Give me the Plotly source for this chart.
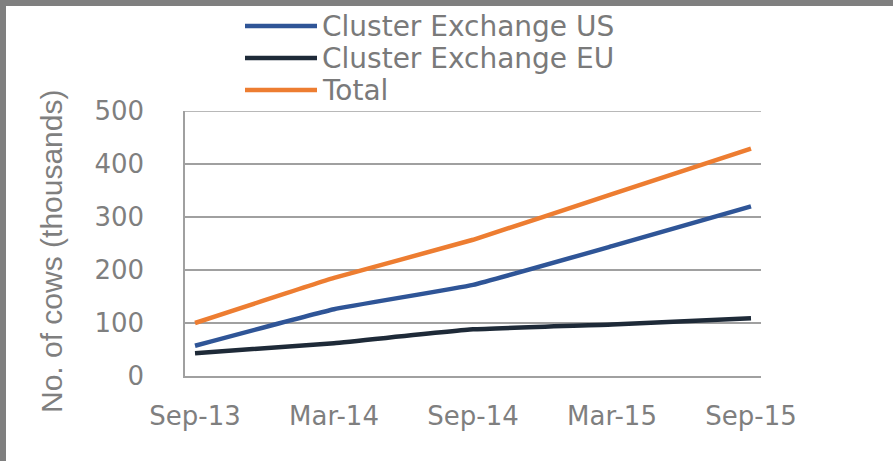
import plotly.graph_objects as go

categories = ["Sep-13", "Mar-14", "Sep-14", "Mar-15", "Sep-15"]
us_values = [57, 126, 172, 245, 320]
eu_values = [43, 62, 88, 97, 109]
total_values = [100, 185, 257, 343, 429]
series_names = ["Cluster Exchange US", "Cluster Exchange EU", "Total"]
series_colors = ["#2F5597", "#1E2A38", "#ED7D31"]
y_ticks = [0, 100, 200, 300, 400, 500]

W, H = 893, 461
L, R, T, B = 185, 132, 111, 85
pw, ph = W - L - R, H - T - B

def px_x(p):
    return (p - L) / pw

def px_y(p):
    return (H - B - p) / ph

fig = go.Figure()
for name, vals, col in zip(series_names, [us_values, eu_values, total_values], series_colors):
    fig.add_trace(go.Scatter(x=categories, y=vals, mode="lines", name=name,
                             line=dict(color=col, width=4.5, shape="spline", smoothing=0.3),
                             showlegend=False))

shapes = []
annotations = []
# top gridline (at the axis edge)
shapes.append(dict(type="line", xref="paper", yref="y", x0=0, x1=1, y0=y_ticks[-1], y1=y_ticks[-1],
                   line=dict(color="#a0a0a0", width=1.5), layer="below"))
# gray frame top and left
shapes.append(dict(type="rect", xref="paper", yref="paper", x0=px_x(0), x1=px_x(W), y0=px_y(6), y1=px_y(0),
                   fillcolor="#7f7f7f", line=dict(width=0), layer="above"))
shapes.append(dict(type="rect", xref="paper", yref="paper", x0=px_x(0), x1=px_x(6), y0=px_y(H), y1=px_y(0),
                   fillcolor="#7f7f7f", line=dict(width=0), layer="above"))

legend_rows = [26, 58, 90]
for name, col, ry in zip(series_names, series_colors, legend_rows):
    shapes.append(dict(type="line", xref="paper", yref="paper", x0=px_x(245), x1=px_x(317),
                       y0=px_y(ry), y1=px_y(ry), line=dict(color=col, width=4.5)))
    annotations.append(dict(text=name, xref="paper", yref="paper", x=px_x(320), y=px_y(ry),
                            xanchor="left", yanchor="middle", showarrow=False,
                            font=dict(family="DejaVu Sans", size=28, color="#7a7a7a")))

annotations.append(dict(text="No. of cows (thousands)", xref="paper", yref="paper",
                        x=px_x(51), y=px_y(252), textangle=-90, showarrow=False,
                        xanchor="center", yanchor="middle",
                        font=dict(family="Liberation Sans", size=30, color="#7f7f7f")))

fig.update_layout(
    width=W, height=H,
    margin=dict(l=L, r=R, t=T, b=B, pad=0),
    paper_bgcolor="white", plot_bgcolor="white",
    shapes=shapes, annotations=annotations,
    xaxis=dict(type="category", range=[-0.072, 4.072], showgrid=False, showline=True,
               linecolor="#a0a0a0", linewidth=1.5, ticks="outside", ticklen=16,
               tickcolor="rgba(0,0,0,0)", zeroline=False,
               tickfont=dict(family="DejaVu Sans", size=26, color="#7f7f7f")),
    yaxis=dict(range=[0, 500], tickvals=y_ticks, showgrid=True, gridcolor="#a0a0a0", gridwidth=1.5,
               showline=True, linecolor="#a0a0a0", linewidth=1.5, zeroline=False,
               ticks="outside", ticklen=34, tickcolor="rgba(0,0,0,0)",
               tickfont=dict(family="DejaVu Sans", size=26, color="#7f7f7f")),
)

fig.write_html("out.html", config={"displayModeBar": False},
               post_script="document.body.style.margin='0';document.body.style.overflow='hidden';")
